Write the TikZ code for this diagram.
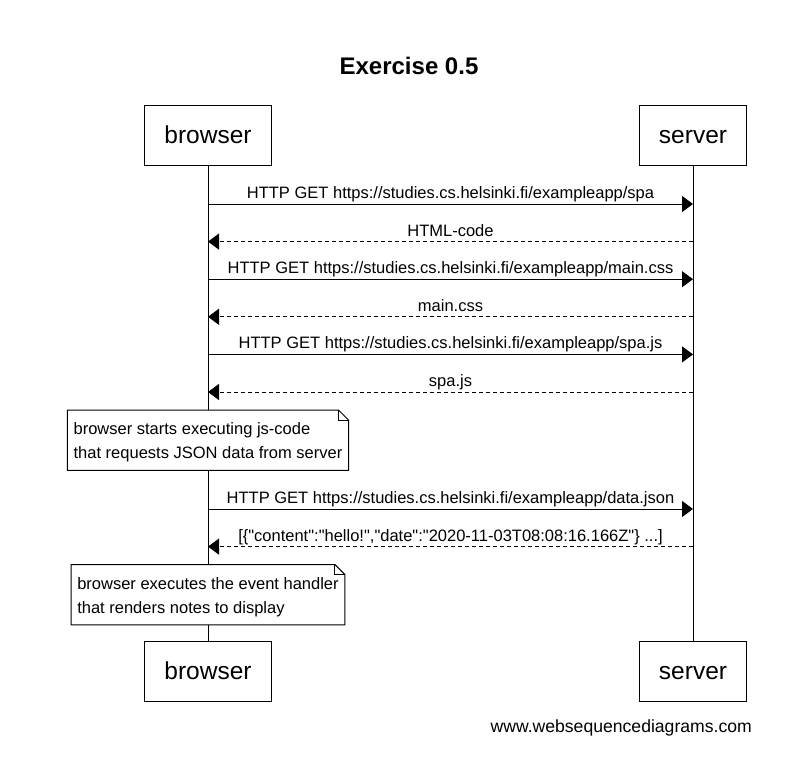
\documentclass[tikz,border=0pt]{standalone}
\usepackage{fontspec}
\setmainfont{Liberation Sans}[Ligatures=TeXOff]
\usetikzlibrary{arrows.meta}

\tikzset{
  actor/.style={draw=black, line width=1pt, fill=white, minimum height=60pt,
    inner xsep=19.5pt, inner ysep=0pt, text height=17.9pt, text depth=0pt,
    font=\fontsize{24.5}{28}\selectfont},
  lifeline/.style={line width=1pt},
  call/.style={line width=1pt, -{Triangle[length=11pt,width=16pt]}},
  reply/.style={call, dash pattern=on 4pt off 3pt},
  msglabel/.style={font=\fontsize{16.5}{20}\selectfont, anchor=base,
    yshift=5.5pt, inner sep=0pt},
  notebox/.style={font=\fontsize{16.5}{24}\selectfont, align=left,
    inner xsep=6pt, inner ysep=8.25pt, fill=white},
  noteline/.style={line width=1pt},
}

% outline of a note with a folded top-right corner
\newcommand{\notefold}[1]{%
  \draw[noteline] (#1.south west) -- (#1.north west)
    -- ([xshift=-10pt]#1.north east) -- ([yshift=-10pt]#1.north east)
    -- (#1.south east) -- cycle;
  \draw[noteline] ([xshift=-10pt]#1.north east) |- ([yshift=-10pt]#1.north east);
}

\begin{document}
\begin{tikzpicture}[x=1pt, y=-1pt]
  \useasboundingbox (0,0) rectangle (809,766);

  % title
  \node[font=\fontsize{24}{28}\selectfont\bfseries, anchor=base, inner sep=0pt]
    (title) at (409,74) {Exercise 0.5};

  % participants
  \node[actor] (bt) at (208,135) {browser};
  \node[actor] (st) at (693,135) {server};
  \node[actor] (bb) at (208,671) {browser};
  \node[actor] (sb) at (693,671) {server};

  % lifelines
  \draw[lifeline] (bt) -- (bb);
  \draw[lifeline] (st) -- (sb);

  % message anchors on the lifelines
  \foreach \i/\y in {1/204, 2/241.6, 3/279.2, 4/316.8, 5/354.4, 6/392, 7/509, 8/546.6} {
    \coordinate (b\i) at (208,\y);
    \coordinate (s\i) at (693,\y);
  }

  % messages
  \draw[call] (b1) -- (s1)
    node[msglabel, midway] {HTTP GET https://studies.cs.helsinki.fi/exampleapp/spa};
  \draw[reply] (s2) -- (b2)
    node[msglabel, midway] {HTML-code};
  \draw[call] (b3) -- (s3)
    node[msglabel, midway] {HTTP GET https://studies.cs.helsinki.fi/exampleapp/main.css};
  \draw[reply] (s4) -- (b4)
    node[msglabel, midway] {main.css};
  \draw[call] (b5) -- (s5)
    node[msglabel, midway] {HTTP GET https://studies.cs.helsinki.fi/exampleapp/spa.js};
  \draw[reply] (s6) -- (b6)
    node[msglabel, midway] {spa.js};
  \draw[call] (b7) -- (s7)
    node[msglabel, midway] {HTTP GET https://studies.cs.helsinki.fi/exampleapp/data.json};
  \draw[reply] (s8) -- (b8)
    node[msglabel, midway] {[\{"content":"hello!","date":"2020-11-03T08:08:16.166Z"\} ...]};

  % notes over the browser
  \node[notebox, anchor=north] (n1) at (208,410)
    {\rule{0pt}{16pt}browser starts executing js-code\\that requests JSON data from server};
  \notefold{n1}
  \node[notebox, anchor=north] (n2) at (208,564.6)
    {\rule{0pt}{16pt}browser executes the event handler\\that renders notes to display};
  \notefold{n2}

  % credit line
  \node[font=\fontsize{17.6}{20}\selectfont, anchor=base east, inner sep=0pt]
    (credit) at (752,732) {www.websequencediagrams.com};
\end{tikzpicture}
\end{document}
